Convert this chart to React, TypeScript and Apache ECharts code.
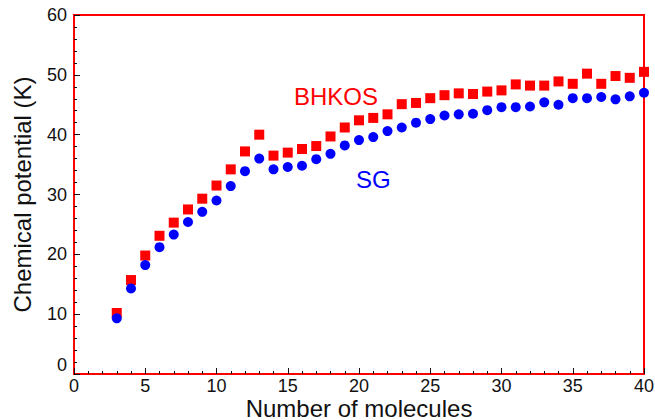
import React, { useEffect, useRef } from "react";
import * as echarts from "echarts";

const molecules = [3, 4, 5, 6, 7, 8, 9, 10, 11, 12, 13, 14, 15, 16, 17, 18, 19, 20, 21, 22, 23, 24, 25, 26, 27, 28, 29, 30, 31, 32, 33, 34, 35, 36, 37, 38, 39, 40];

const bhkos = [10.2, 15.7, 19.8, 23.1, 25.3, 27.5, 29.3, 31.5, 34.2, 37.2, 40.0, 36.5, 37.0, 37.6, 38.1, 39.7, 41.2, 42.4, 42.8, 43.4, 45.1, 45.3, 46.1, 46.6, 46.9, 46.8, 47.2, 47.4, 48.4, 48.2, 48.2, 48.9, 48.5, 50.2, 48.5, 49.8, 49.5, 50.5];

const sg = [9.3, 14.3, 18.2, 21.2, 23.3, 25.4, 27.1, 29.0, 31.4, 33.9, 36.0, 34.2, 34.6, 34.8, 35.9, 36.8, 38.2, 39.1, 39.6, 40.6, 41.2, 42.0, 42.6, 43.2, 43.4, 43.5, 44.1, 44.6, 44.6, 44.7, 45.4, 45.0, 46.1, 46.1, 46.3, 45.9, 46.4, 47.0];

const FONT = "'Liberation Sans', Arial, Helvetica, sans-serif";

export default function App() {
  const ref = useRef<HTMLDivElement>(null);
  useEffect(() => {
    if (!ref.current) return;
    const chart = echarts.init(ref.current, null, { renderer: "svg" });
    const frame = "#ff0000";
    chart.setOption({
      animation: false,
      backgroundColor: "#ffffff",
      textStyle: { fontFamily: FONT },
      grid: {
        left: 74,
        right: 11,
        top: 15,
        bottom: 46,
        show: true,
        borderColor: frame,
        borderWidth: 2,
        backgroundColor: "transparent",
        containLabel: false,
        outerBoundsMode: "none",
      },
      xAxis: {
        type: "value",
        min: 0,
        max: 40,
        interval: 5,
        name: "Number of molecules",
        nameLocation: "middle",
        nameGap: 22,
        nameMoveOverlap: false,
        nameTextStyle: { fontSize: 24, lineHeight: 24, color: "#111", fontFamily: FONT },
        axisLine: { show: true, lineStyle: { color: frame, width: 2 } },
        axisTick: { show: true, inside: true, length: 6, lineStyle: { color: "#111", width: 1 } },
        minorTick: { show: true, splitNumber: 5, length: 3, lineStyle: { color: "#111", width: 1 } },
        splitLine: { show: false },
        axisLabel: { fontSize: 18, lineHeight: 18, color: "#111", margin: 3, fontFamily: FONT },
      },
      yAxis: {
        type: "value",
        min: 0,
        max: 60,
        interval: 10,
        name: "Chemical potential (K)",
        nameLocation: "middle",
        nameGap: 40,
        nameRotate: 90,
        nameMoveOverlap: false,
        nameTextStyle: { fontSize: 24, color: "#111", fontFamily: FONT },
        axisLine: { show: true, lineStyle: { color: frame, width: 2 } },
        axisTick: { show: true, inside: true, length: 6, lineStyle: { color: "#111", width: 1 } },
        minorTick: { show: true, splitNumber: 5, length: 3, lineStyle: { color: "#111", width: 1 } },
        splitLine: { show: false },
        axisLabel: { fontSize: 18, color: "#111", margin: 7, fontFamily: FONT, verticalAlignMinLabel: "bottom" },
      },
      series: [
        {
          name: "BHKOS",
          type: "scatter",
          symbol: "rect",
          symbolSize: 10,
          itemStyle: { color: "#ff0000", opacity: 1 },
          data: molecules.map((m, i) => [m, bhkos[i]]),
        },
        {
          name: "SG",
          type: "scatter",
          symbol: "circle",
          symbolSize: 10,
          itemStyle: { color: "#0000ff", opacity: 1 },
          data: molecules.map((m, i) => [m, sg[i]]),
        },
      ],
      graphic: [
        {
          type: "text",
          left: 294,
          top: 84,
          style: { text: "BHKOS", fill: "#ff0000", fontSize: 24, fontFamily: FONT },
        },
        {
          type: "text",
          left: 356,
          top: 167,
          style: { text: "SG", fill: "#0000ff", fontSize: 24, fontFamily: FONT },
        },
      ],
    });
    return () => chart.dispose();
  }, []);
  return (
    <div
      ref={ref}
      style={{ position: "fixed", left: 0, top: 0, width: 655, height: 420 }}
    />
  );
}
